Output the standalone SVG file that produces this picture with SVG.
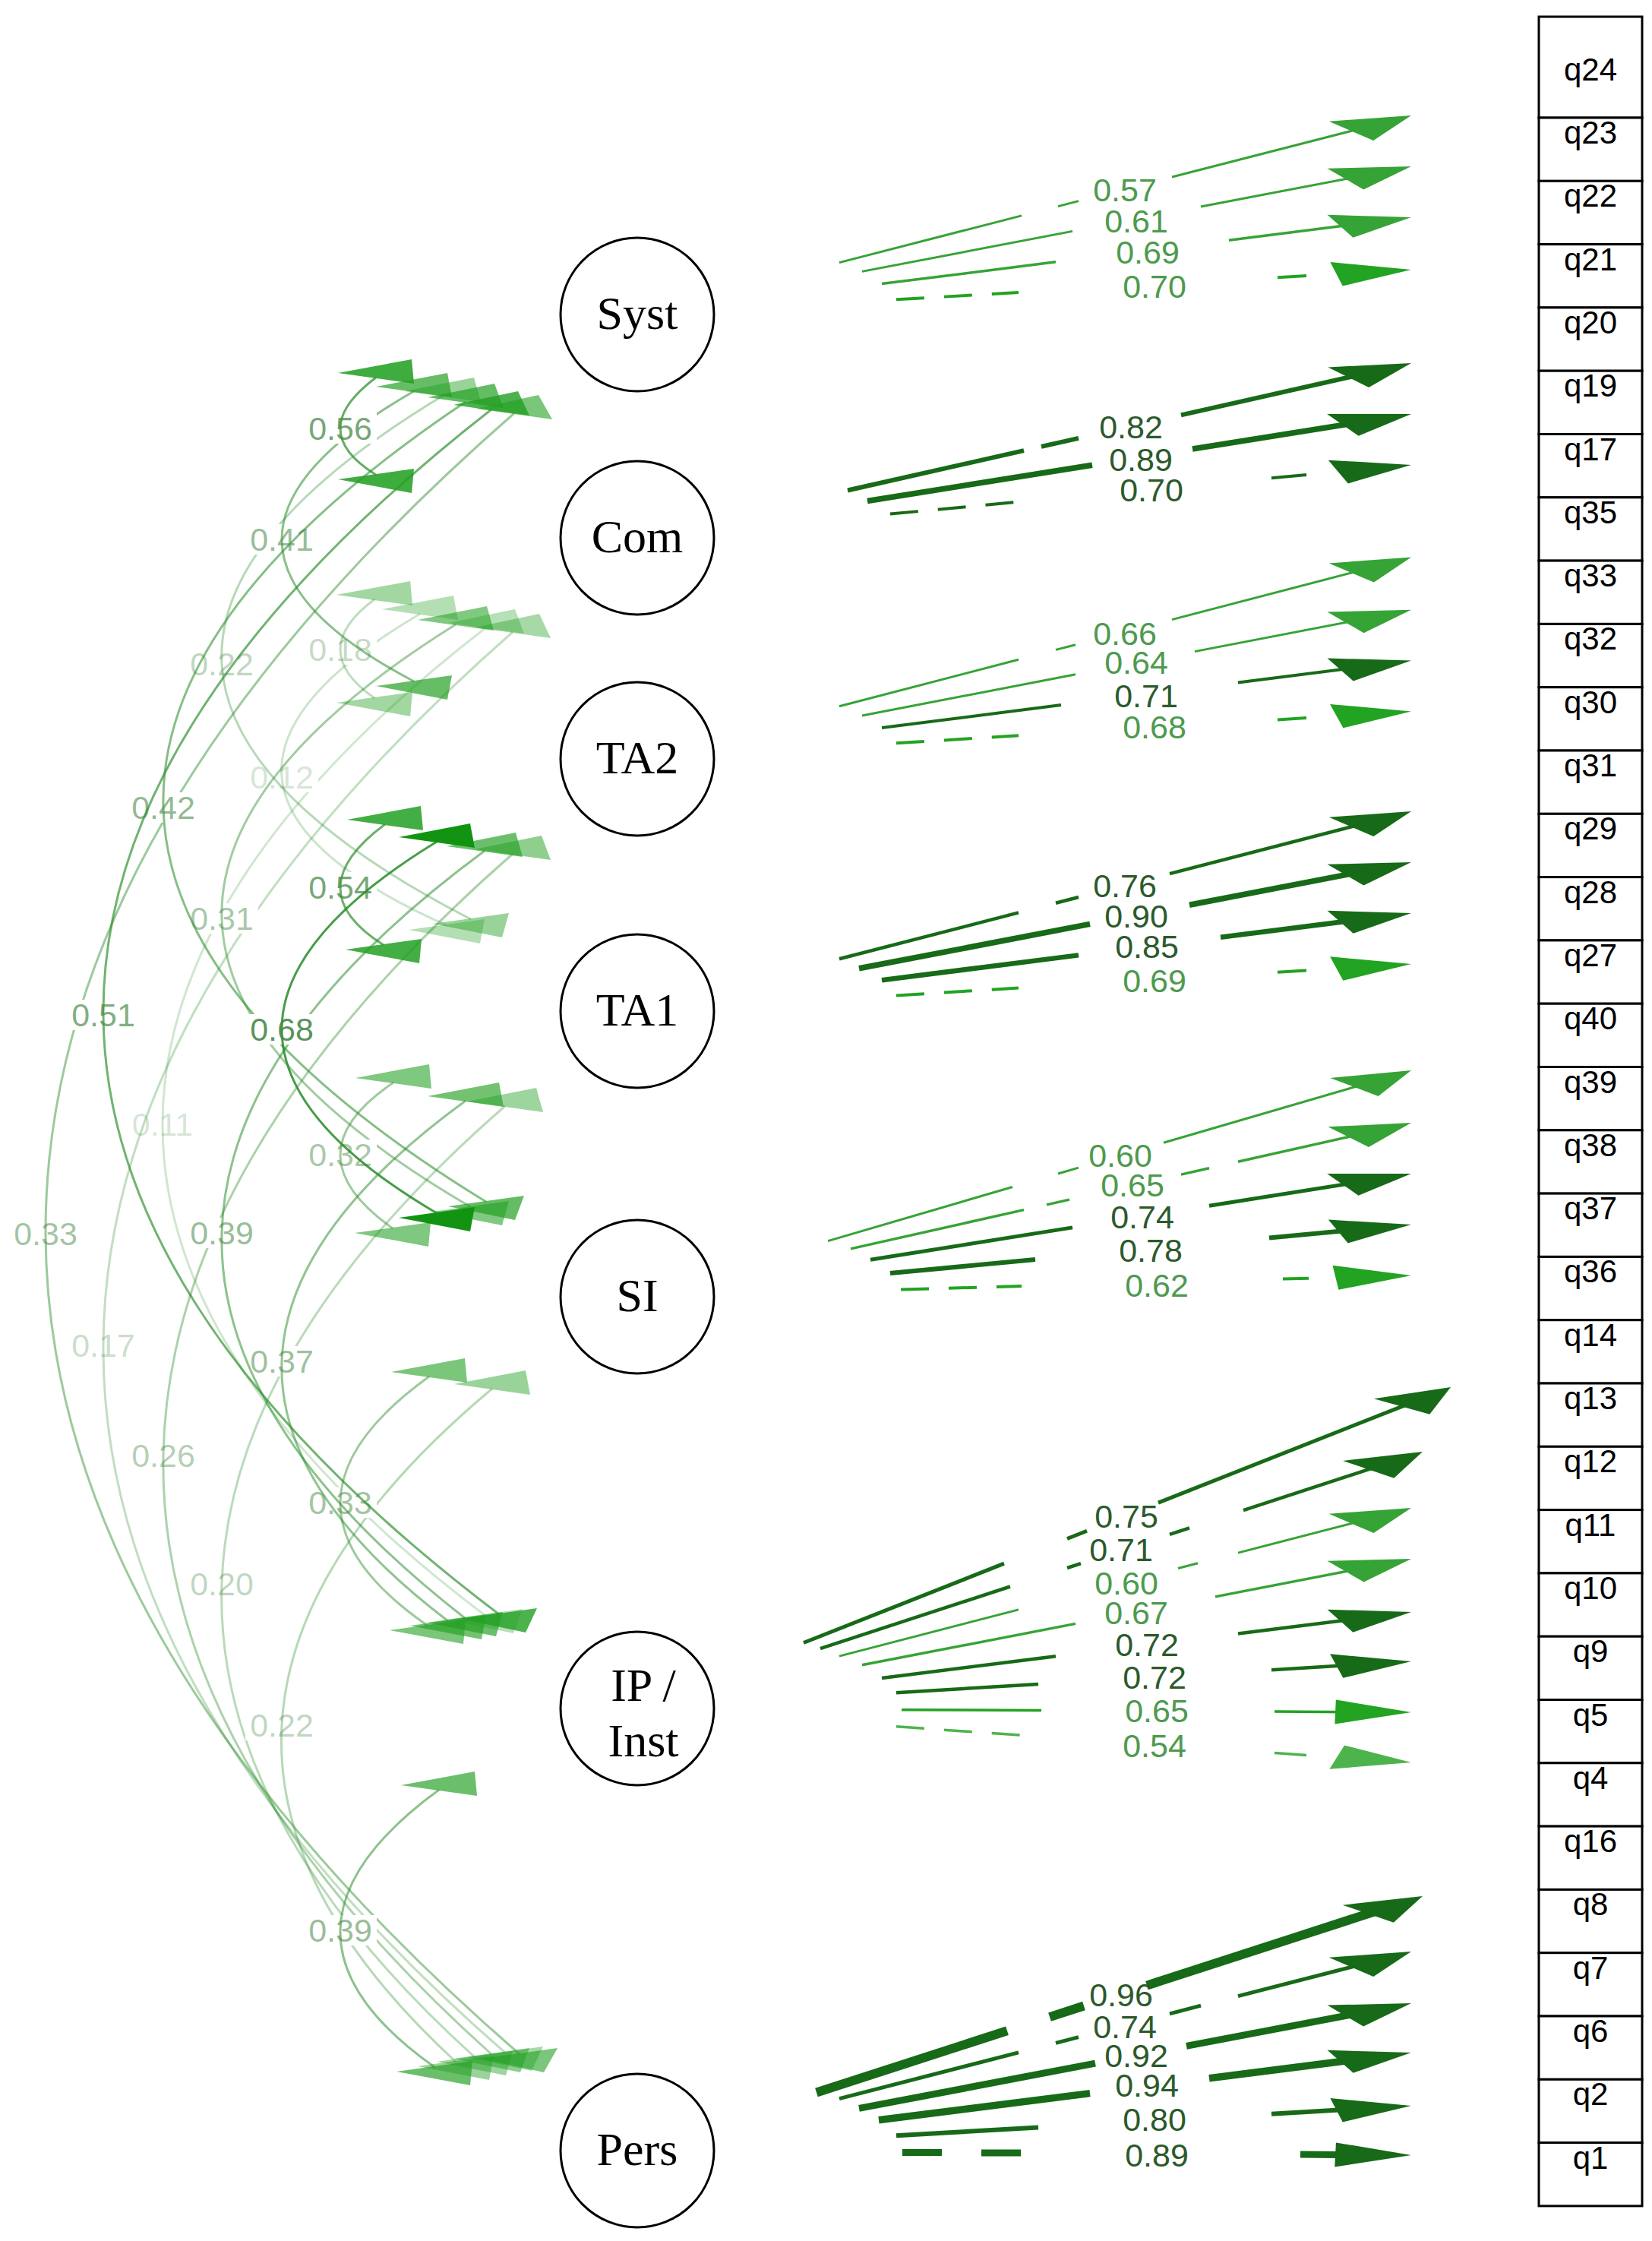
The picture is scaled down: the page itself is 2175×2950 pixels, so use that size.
<svg xmlns="http://www.w3.org/2000/svg" width="2175" height="2950" viewBox="0 0 2175 2950">
<style>
.box{fill:#fff;stroke:#000;stroke-width:3}
.lat{fill:#fff;stroke:#000;stroke-width:3}
.latt{font-family:"Liberation Serif","Times New Roman",serif;font-size:62px;text-anchor:middle;fill:#000}
.boxt{font-family:"Liberation Sans",Arial,sans-serif;font-size:42px;text-anchor:middle;fill:#000}
.lab{font-family:"Liberation Sans",Arial,sans-serif;font-size:43px;text-anchor:middle}
.ld{fill:#2c5a2c}
.lg{fill:#4e9a4e}
.cl{fill:#4a8a4a}
.lbg{fill:#fff}
.arc{fill:none;stroke:#288c28;stroke-width:3}
.hd{fill:#22a022}
line{fill:none;stroke-linecap:butt}
.dk{stroke:#176a17}
.gr{stroke:#36a336}
.br{stroke:#22a322}
.lt{stroke:#4db34d}
.dash{stroke-dasharray:37 26}
.inv{stroke:none}
</style>
<defs>
<marker id="mdk" markerUnits="userSpaceOnUse" orient="auto" refX="0" refY="0" markerWidth="1" markerHeight="1" overflow="visible"><path d="M0,0 L-33.3,-16 L-33.3,16 Z" fill="#176a17"/></marker>
<marker id="mgr" markerUnits="userSpaceOnUse" orient="auto" refX="0" refY="0" markerWidth="1" markerHeight="1" overflow="visible"><path d="M0,0 L-33.3,-16 L-33.3,16 Z" fill="#36a336"/></marker>
<marker id="mbr" markerUnits="userSpaceOnUse" orient="auto" refX="0" refY="0" markerWidth="1" markerHeight="1" overflow="visible"><path d="M0,0 L-33.3,-16 L-33.3,16 Z" fill="#22a322"/></marker>
<marker id="mlt" markerUnits="userSpaceOnUse" orient="auto" refX="0" refY="0" markerWidth="1" markerHeight="1" overflow="visible"><path d="M0,0 L-33.3,-16 L-33.3,16 Z" fill="#4db34d"/></marker>
</defs>
<rect x="0" y="0" width="2175" height="2950" fill="#fff"/>

<g id="connectors">
<g id="covariances">
<g id="cov-Com-IP"><rect class="lbg" x="166" y="1460" width="96" height="40"/><path class="arc" stroke-opacity=".22" d="M640,826 Q-211,1484 638,2126"/><polygon class="hd" fill-opacity=".33" points="590,820 678,802 690,834"/><polygon class="hd" fill-opacity=".33" points="588,2132 688,2118 676,2150"/><text class="lab cl" fill-opacity=".23" x="214" y="1495">0.11</text></g>
<g id="cov-Com-TA1"><rect class="lbg" x="323" y="1003" width="96" height="40"/><path class="arc" stroke-opacity=".23" d="M553,808 Q171.5,1033 588,1218"/><polygon class="hd" fill-opacity=".34" points="503,802 597,784 603,816"/><polygon class="hd" fill-opacity=".34" points="538,1224 638,1210 632,1242"/><text class="lab cl" fill-opacity=".24" x="371" y="1038">0.12</text></g>
<g id="cov-Com-Pers"><rect class="lbg" x="88" y="1751" width="96" height="40"/><path class="arc" stroke-opacity=".29" d="M675,832 Q-398,1775 665,2702"/><polygon class="hd" fill-opacity=".40" points="625,826 710,808 725,840"/><polygon class="hd" fill-opacity=".40" points="615,2708 715,2694 700,2726"/><text class="lab cl" fill-opacity=".30" x="136" y="1786">0.17</text></g>
<g id="cov-Com-TA2"><rect class="lbg" x="400" y="835" width="96" height="40"/><path class="arc" stroke-opacity=".30" d="M493,789 Q403,856 493,919"/><polygon class="hd" fill-opacity=".42" points="443,783 540,765 543,797"/><polygon class="hd" fill-opacity=".42" points="443,925 543,911 540,943"/><text class="lab cl" fill-opacity=".32" x="448" y="870">0.18</text></g>
<g id="cov-TA1-Pers"><rect class="lbg" x="244" y="2065" width="96" height="40"/><path class="arc" stroke-opacity=".32" d="M665,1456 Q-61,2088 625,2708"/><polygon class="hd" fill-opacity=".44" points="615,1450 706,1432 715,1464"/><polygon class="hd" fill-opacity=".44" points="575,2714 675,2700 666,2732"/><text class="lab cl" fill-opacity=".34" x="292" y="2100">0.20</text></g>
<g id="cov-Syst-TA1"><rect class="lbg" x="244" y="854" width="96" height="40"/><path class="arc" stroke-opacity=".34" d="M583,521 Q-17.5,882.5 620,1210"/><polygon class="hd" fill-opacity=".46" points="533,515 624,497 633,529"/><polygon class="hd" fill-opacity=".46" points="570,1216 670,1202 661,1234"/><text class="lab cl" fill-opacity=".36" x="292" y="889">0.22</text></g>
<g id="cov-SI-Pers"><rect class="lbg" x="323" y="2251" width="96" height="40"/><path class="arc" stroke-opacity=".34" d="M648,1828 Q118,2271 600,2714"/><polygon class="hd" fill-opacity=".46" points="598,1822 692,1804 698,1836"/><polygon class="hd" fill-opacity=".46" points="550,2720 650,2706 644,2738"/><text class="lab cl" fill-opacity=".36" x="371" y="2286">0.22</text></g>
<g id="cov-TA2-Pers"><rect class="lbg" x="167" y="1896" width="96" height="40"/><path class="arc" stroke-opacity=".39" d="M675,1124 Q-231,1918 647,2704"/><polygon class="hd" fill-opacity=".51" points="625,1118 713,1100 725,1132"/><polygon class="hd" fill-opacity=".51" points="597,2710 697,2696 685,2728"/><text class="lab cl" fill-opacity=".41" x="215" y="1931">0.26</text></g>
<g id="cov-Com-SI"><rect class="lbg" x="244" y="1189" width="96" height="40"/><path class="arc" stroke-opacity=".44" d="M600,822 Q-26,1212.5 620,1589"/><polygon class="hd" fill-opacity=".57" points="550,816 641,798 650,830"/><polygon class="hd" fill-opacity=".57" points="570,1595 670,1581 661,1613"/><text class="lab cl" fill-opacity=".47" x="292" y="1224">0.31</text></g>
<g id="cov-TA1-SI"><rect class="lbg" x="400" y="1500" width="96" height="40"/><path class="arc" stroke-opacity=".45" d="M518,1425 Q378.5,1519 517,1617"/><polygon class="hd" fill-opacity=".58" points="468,1419 565,1401 568,1433"/><polygon class="hd" fill-opacity=".58" points="467,1623 567,1609 564,1641"/><text class="lab cl" fill-opacity=".48" x="448" y="1535">0.32</text></g>
<g id="cov-SI-IP"><rect class="lbg" x="400" y="1958" width="96" height="40"/><path class="arc" stroke-opacity=".46" d="M565,1812 Q332,1980 563,2140"/><polygon class="hd" fill-opacity=".60" points="515,1806 612,1788 615,1820"/><polygon class="hd" fill-opacity=".60" points="513,2146 613,2132 610,2164"/><text class="lab cl" fill-opacity=".50" x="448" y="1993">0.33</text></g>
<g id="cov-Syst-Pers"><rect class="lbg" x="12" y="1604" width="96" height="40"/><path class="arc" stroke-opacity=".46" d="M677,544 Q-560.5,1624 684,2704"/><polygon class="hd" fill-opacity=".60" points="627,538 709,520 727,552"/><polygon class="hd" fill-opacity=".60" points="634,2710 734,2696 716,2728"/><text class="lab cl" fill-opacity=".50" x="60" y="1639">0.33</text></g>
<g id="cov-TA1-IP"><rect class="lbg" x="323" y="1772" width="96" height="40"/><path class="arc" stroke-opacity=".51" d="M613,1449 Q140.5,1792.5 590,2134"/><polygon class="hd" fill-opacity=".64" points="563,1443 657,1425 663,1457"/><polygon class="hd" fill-opacity=".64" points="540,2140 640,2126 634,2158"/><text class="lab cl" fill-opacity=".54" x="371" y="1807">0.37</text></g>
<g id="cov-TA2-IP"><rect class="lbg" x="244" y="1603" width="96" height="40"/><path class="arc" stroke-opacity=".53" d="M638,1120 Q-41,1621 612,2130"/><polygon class="hd" fill-opacity=".67" points="588,1114 679,1096 688,1128"/><polygon class="hd" fill-opacity=".67" points="562,2136 662,2122 653,2154"/><text class="lab cl" fill-opacity=".57" x="292" y="1638">0.39</text></g>
<g id="cov-IP-Pers"><rect class="lbg" x="400" y="2521" width="96" height="40"/><path class="arc" stroke-opacity=".53" d="M578,2356 Q321,2543.5 572,2721"/><polygon class="hd" fill-opacity=".67" points="528,2350 625,2332 628,2364"/><polygon class="hd" fill-opacity=".67" points="522,2727 622,2713 619,2745"/><text class="lab cl" fill-opacity=".57" x="448" y="2556">0.39</text></g>
<g id="cov-Syst-TA2"><rect class="lbg" x="323" y="690" width="96" height="40"/><path class="arc" stroke-opacity=".55" d="M545,515 Q197,714 545,897"/><polygon class="hd" fill-opacity=".69" points="495,509 589,491 595,523"/><polygon class="hd" fill-opacity=".69" points="495,903 595,889 589,921"/><text class="lab cl" fill-opacity=".59" x="371" y="725">0.41</text></g>
<g id="cov-Syst-SI"><rect class="lbg" x="167" y="1043" width="96" height="40"/><path class="arc" stroke-opacity=".56" d="M613,529 Q-196.5,1070.5 640,1582"/><polygon class="hd" fill-opacity=".70" points="563,523 651,505 663,537"/><polygon class="hd" fill-opacity=".70" points="590,1588 690,1574 678,1606"/><text class="lab cl" fill-opacity=".60" x="215" y="1078">0.42</text></g>
<g id="cov-Syst-IP"><rect class="lbg" x="88" y="1316" width="96" height="40"/><path class="arc" stroke-opacity=".66" d="M647,539 Q-380,1340 657,2125"/><polygon class="hd" fill-opacity=".81" points="597,533 682,515 697,547"/><polygon class="hd" fill-opacity=".81" points="607,2131 707,2117 692,2149"/><text class="lab cl" fill-opacity=".71" x="136" y="1351">0.51</text></g>
<g id="cov-TA2-TA1"><rect class="lbg" x="400" y="1148" width="96" height="40"/><path class="arc" stroke-opacity=".69" d="M507,1085 Q390,1171.5 505,1244"/><polygon class="hd" fill-opacity=".85" points="457,1079 554,1061 557,1093"/><polygon class="hd" fill-opacity=".85" points="455,1250 555,1236 552,1268"/><text class="lab cl" fill-opacity=".75" x="448" y="1183">0.54</text></g>
<g id="cov-Syst-Com"><rect class="lbg" x="400" y="544" width="96" height="40"/><path class="arc" stroke-opacity=".72" d="M495,497 Q401,567 495,625"/><polygon class="hd" fill-opacity=".87" points="445,491 542,473 545,505"/><polygon class="hd" fill-opacity=".87" points="445,631 545,617 542,649"/><text class="lab cl" fill-opacity=".77" x="448" y="579">0.56</text></g>
<g id="cov-TA2-SI"><rect class="lbg" x="323" y="1335" width="96" height="40"/><path class="arc" stroke-opacity=".85" d="M575,1108 Q167,1357.5 575,1597"/><polygon fill="#129412" points="525,1102 619,1084 625,1116"/><polygon fill="#129412" points="525,1603 625,1589 619,1621"/><text class="lab cl" fill-opacity=".92" x="371" y="1370">0.68</text></g>
</g>

<g id="loadings">
<!-- Syst -->
<line class="gr" stroke-width="3" x1="1105" y1="345.6" x2="1345" y2="283.9"/>
<line class="gr" stroke-width="3" x1="1393" y1="271.6" x2="1420" y2="264.6"/>
<line class="gr" stroke-width="3" x1="1543" y1="233" x2="1813" y2="163.6"/>
<line class="gr" stroke-width="3" x1="1135" y1="357.4" x2="1412" y2="304.4"/>
<line class="gr" stroke-width="3" x1="1581" y1="272" x2="1813" y2="227.6"/>
<line class="gr" stroke-width="3.5" x1="1161" y1="373.6" x2="1390" y2="344.8"/>
<line class="gr" stroke-width="3.5" x1="1618" y1="316.2" x2="1813" y2="291.7"/>
<line class="br dash" stroke-width="4" x1="1180" y1="394.3" x2="1341" y2="384.9"/>
<line class="br" stroke-width="4" x1="1682" y1="365.2" x2="1720" y2="363"/>
<!-- Com -->
<line class="dk" stroke-width="6" x1="1116" y1="645.5" x2="1348" y2="593.1"/>
<line class="dk" stroke-width="6" x1="1371" y1="587.9" x2="1420" y2="576.9"/>
<line class="dk" stroke-width="6" x1="1555" y1="546.4" x2="1813" y2="488.2"/>
<line class="dk" stroke-width="7.5" x1="1142" y1="659.5" x2="1438" y2="612.2"/>
<line class="dk" stroke-width="7.5" x1="1570" y1="591" x2="1813" y2="552.2"/>
<line class="dk dash" stroke-width="4" x1="1172" y1="676.6" x2="1360" y2="658.9"/>
<line class="dk" stroke-width="4" x1="1674" y1="629.3" x2="1720" y2="625"/>
<!-- TA2 -->
<line class="gr" stroke-width="3" x1="1105" y1="929.7" x2="1341" y2="868.2"/>
<line class="gr" stroke-width="3" x1="1390" y1="855.4" x2="1416" y2="848.7"/>
<line class="gr" stroke-width="3" x1="1543" y1="815.6" x2="1813" y2="745.2"/>
<line class="gr" stroke-width="3" x1="1135" y1="942" x2="1416" y2="887.8"/>
<line class="gr" stroke-width="3" x1="1573" y1="857.6" x2="1813" y2="811.4"/>
<line class="dk" stroke-width="4" x1="1161" y1="958.1" x2="1397" y2="928.1"/>
<line class="dk" stroke-width="4" x1="1630" y1="898.6" x2="1813" y2="875.3"/>
<line class="br dash" stroke-width="4" x1="1180" y1="978.3" x2="1341" y2="968.3"/>
<line class="br" stroke-width="4" x1="1682" y1="947.4" x2="1720" y2="945"/>
<!-- TA1 -->
<line class="dk" stroke-width="4.5" x1="1105" y1="1262.3" x2="1341" y2="1201.4"/>
<line class="dk" stroke-width="4.5" x1="1390" y1="1188.8" x2="1420" y2="1181"/>
<line class="dk" stroke-width="4.5" x1="1540" y1="1150.1" x2="1813" y2="1079.6"/>
<line class="dk" stroke-width="7.5" x1="1131" y1="1274.8" x2="1435" y2="1216.4"/>
<line class="dk" stroke-width="7.5" x1="1566" y1="1191.2" x2="1813" y2="1143.7"/>
<line class="dk" stroke-width="6.5" x1="1161" y1="1290.2" x2="1420" y2="1257.4"/>
<line class="dk" stroke-width="6.5" x1="1607" y1="1233.8" x2="1813" y2="1207.7"/>
<line class="br dash" stroke-width="4" x1="1180" y1="1310.4" x2="1341" y2="1300.5"/>
<line class="br" stroke-width="4" x1="1682" y1="1279.7" x2="1720" y2="1277.4"/>
<!-- SI -->
<line class="gr" stroke-width="3" x1="1090" y1="1633.6" x2="1333" y2="1562.5"/>
<line class="gr" stroke-width="3" x1="1393" y1="1545" x2="1420" y2="1537.1"/>
<line class="gr" stroke-width="3" x1="1532" y1="1504.3" x2="1813" y2="1422.2"/>
<line class="gr" stroke-width="3.5" x1="1120" y1="1643.9" x2="1348" y2="1592.6"/>
<line class="gr" stroke-width="3.5" x1="1378" y1="1585.9" x2="1408" y2="1579.1"/>
<line class="gr" stroke-width="3.5" x1="1555" y1="1546.1" x2="1592" y2="1537.8"/>
<line class="gr" stroke-width="3.5" x1="1630" y1="1529.2" x2="1813" y2="1488.1"/>
<line class="dk" stroke-width="5" x1="1146" y1="1658.2" x2="1412" y2="1615.9"/>
<line class="dk" stroke-width="5" x1="1592" y1="1587.3" x2="1813" y2="1552.2"/>
<line class="dk" stroke-width="6" x1="1172" y1="1676" x2="1363" y2="1658.1"/>
<line class="dk" stroke-width="6" x1="1671" y1="1629.4" x2="1813" y2="1616.2"/>
<line class="br dash" stroke-width="4" x1="1186" y1="1697.5" x2="1345" y2="1693.1"/>
<line class="br" stroke-width="4" x1="1689" y1="1683.6" x2="1723" y2="1682.7"/>
<!-- IP / Inst -->
<line class="dk" stroke-width="5" x1="1058" y1="2162.5" x2="1322" y2="2058.2"/>
<line class="dk" stroke-width="5" x1="1405" y1="2025.5" x2="1431" y2="2015.2"/>
<line class="dk" stroke-width="5" x1="1525" y1="1978.1" x2="1865" y2="1843.8"/>
<line class="dk" stroke-width="4.5" x1="1080" y1="2170.2" x2="1330" y2="2088.5"/>
<line class="dk" stroke-width="4.5" x1="1405" y1="2064" x2="1423" y2="2058.1"/>
<line class="dk" stroke-width="4.5" x1="1540" y1="2019.8" x2="1566" y2="2011.4"/>
<line class="dk" stroke-width="4.5" x1="1637" y1="1988.1" x2="1828" y2="1925.7"/>
<line class="gr" stroke-width="3" x1="1105" y1="2180.1" x2="1341" y2="2118.9"/>
<line class="gr" stroke-width="3" x1="1551" y1="2064.5" x2="1577" y2="2057.8"/>
<line class="gr" stroke-width="3" x1="1630" y1="2044.1" x2="1813" y2="1996.7"/>
<line class="gr" stroke-width="3.5" x1="1135" y1="2191.8" x2="1416" y2="2137.4"/>
<line class="gr" stroke-width="3.5" x1="1600" y1="2101.9" x2="1813" y2="2060.7"/>
<line class="dk" stroke-width="4.5" x1="1161" y1="2208.9" x2="1390" y2="2180.3"/>
<line class="dk" stroke-width="4.5" x1="1630" y1="2150.4" x2="1813" y2="2127.6"/>
<line class="dk" stroke-width="4.5" x1="1180" y1="2228.3" x2="1367" y2="2216.9"/>
<line class="dk" stroke-width="4.5" x1="1674" y1="2198.2" x2="1813" y2="2189.7"/>
<line class="br" stroke-width="3.5" x1="1187" y1="2250.7" x2="1371" y2="2251.6"/>
<line class="br" stroke-width="3.5" x1="1678" y1="2253.1" x2="1813" y2="2253.8"/>
<line class="lt dash" stroke-width="3.5" x1="1180" y1="2272.8" x2="1367" y2="2285.8"/>
<line class="lt" stroke-width="3.5" x1="1678" y1="2307.5" x2="1720" y2="2310.4"/>
<!-- Pers -->
<line class="dk" stroke-width="12" x1="1075" y1="2754.5" x2="1326" y2="2673.2"/>
<line class="dk" stroke-width="12" x1="1382" y1="2655.1" x2="1427" y2="2640.5"/>
<line class="dk" stroke-width="12" x1="1510" y1="2613.6" x2="1828" y2="2510.6"/>
<line class="dk" stroke-width="5" x1="1105" y1="2762.6" x2="1341" y2="2701.9"/>
<line class="dk" stroke-width="5" x1="1390" y1="2689.3" x2="1420" y2="2681.6"/>
<line class="dk" stroke-width="5" x1="1540" y1="2650.8" x2="1581" y2="2640.2"/>
<line class="dk" stroke-width="5" x1="1630" y1="2627.6" x2="1813" y2="2580.6"/>
<line class="dk" stroke-width="9" x1="1131" y1="2775.4" x2="1442" y2="2716.2"/>
<line class="dk" stroke-width="9" x1="1562" y1="2693.4" x2="1813" y2="2645.6"/>
<line class="dk" stroke-width="9.5" x1="1157" y1="2790.7" x2="1435" y2="2755.6"/>
<line class="dk" stroke-width="9.5" x1="1592" y1="2735.7" x2="1813" y2="2707.7"/>
<line class="dk" stroke-width="6" x1="1180" y1="2811.3" x2="1367" y2="2800.4"/>
<line class="dk" stroke-width="6" x1="1674" y1="2782.7" x2="1813" y2="2774.6"/>
<line class="dk" stroke-width="9" stroke-linecap="round" x1="1188" y1="2833.5" x2="1240" y2="2833.5"/>
<line class="dk" stroke-width="9" stroke-linecap="round" x1="1292" y1="2834" x2="1344" y2="2834"/>
<line class="dk" stroke-width="9" x1="1712" y1="2836" x2="1760" y2="2836.5"/>

<g id="arrowheads" transform="scale(3,1)">
<line class="inv" x1="279.67" y1="414" x2="619.33" y2="152" marker-end="url(#mgr)"/>
<line class="inv" x1="279.67" y1="414" x2="619.33" y2="219" marker-end="url(#mgr)"/>
<line class="inv" x1="279.67" y1="414" x2="619.33" y2="286" marker-end="url(#mgr)"/>
<line class="inv" x1="279.67" y1="414" x2="619.33" y2="355" marker-end="url(#mbr)"/>
<line class="inv" x1="279.67" y1="708" x2="619.33" y2="478" marker-end="url(#mdk)"/>
<line class="inv" x1="279.67" y1="708" x2="619.33" y2="545" marker-end="url(#mdk)"/>
<line class="inv" x1="279.67" y1="708" x2="619.33" y2="612" marker-end="url(#mdk)"/>
<line class="inv" x1="279.67" y1="999" x2="619.33" y2="733.5" marker-end="url(#mgr)"/>
<line class="inv" x1="279.67" y1="999" x2="619.33" y2="802.7" marker-end="url(#mgr)"/>
<line class="inv" x1="279.67" y1="999" x2="619.33" y2="869.6" marker-end="url(#mdk)"/>
<line class="inv" x1="279.67" y1="999" x2="619.33" y2="936.6" marker-end="url(#mbr)"/>
<line class="inv" x1="279.67" y1="1331" x2="619.33" y2="1068" marker-end="url(#mdk)"/>
<line class="inv" x1="279.67" y1="1331" x2="619.33" y2="1135" marker-end="url(#mdk)"/>
<line class="inv" x1="279.67" y1="1331" x2="619.33" y2="1202" marker-end="url(#mdk)"/>
<line class="inv" x1="279.67" y1="1331" x2="619.33" y2="1269" marker-end="url(#mbr)"/>
<line class="inv" x1="279.67" y1="1707" x2="619.33" y2="1409" marker-end="url(#mgr)"/>
<line class="inv" x1="279.67" y1="1707" x2="619.33" y2="1478" marker-end="url(#mgr)"/>
<line class="inv" x1="279.67" y1="1707" x2="619.33" y2="1545" marker-end="url(#mdk)"/>
<line class="inv" x1="279.67" y1="1707" x2="619.33" y2="1612" marker-end="url(#mdk)"/>
<line class="inv" x1="279.67" y1="1707" x2="619.33" y2="1679" marker-end="url(#mbr)"/>
<line class="inv" x1="279.67" y1="2249" x2="636.67" y2="1826" marker-end="url(#mdk)"/>
<line class="inv" x1="279.67" y1="2249" x2="624.33" y2="1911" marker-end="url(#mdk)"/>
<line class="inv" x1="279.67" y1="2249" x2="619.33" y2="1985" marker-end="url(#mgr)"/>
<line class="inv" x1="279.67" y1="2249" x2="619.33" y2="2052" marker-end="url(#mgr)"/>
<line class="inv" x1="279.67" y1="2249" x2="619.33" y2="2122" marker-end="url(#mdk)"/>
<line class="inv" x1="279.67" y1="2249" x2="619.33" y2="2187" marker-end="url(#mdk)"/>
<line class="inv" x1="279.67" y1="2249" x2="619.33" y2="2254" marker-end="url(#mbr)"/>
<line class="inv" x1="279.67" y1="2249" x2="619.33" y2="2320" marker-end="url(#mlt)"/>
<line class="inv" x1="279.67" y1="2831" x2="624.33" y2="2496" marker-end="url(#mdk)"/>
<line class="inv" x1="279.67" y1="2831" x2="619.33" y2="2569" marker-end="url(#mdk)"/>
<line class="inv" x1="279.67" y1="2831" x2="619.33" y2="2637" marker-end="url(#mdk)"/>
<line class="inv" x1="279.67" y1="2831" x2="619.33" y2="2702" marker-end="url(#mdk)"/>
<line class="inv" x1="279.67" y1="2831" x2="619.33" y2="2772" marker-end="url(#mdk)"/>
<line class="inv" x1="279.67" y1="2831" x2="619.33" y2="2837" marker-end="url(#mdk)"/>
</g>

<g id="loading-labels" class="lab">
<text class="lab lg" x="1481" y="265">0.57</text>
<text class="lab lg" x="1496" y="306">0.61</text>
<text class="lab lg" x="1511" y="347">0.69</text>
<text class="lab lg" x="1520" y="392">0.70</text>
<text class="lab ld" x="1489" y="577">0.82</text>
<text class="lab ld" x="1502" y="620">0.89</text>
<text class="lab ld" x="1516" y="660">0.70</text>
<text class="lab lg" x="1481" y="849">0.66</text>
<text class="lab lg" x="1496" y="887">0.64</text>
<text class="lab ld" x="1509" y="931">0.71</text>
<text class="lab lg" x="1520" y="972">0.68</text>
<text class="lab ld" x="1481" y="1181">0.76</text>
<text class="lab ld" x="1496" y="1221">0.90</text>
<text class="lab ld" x="1510" y="1261">0.85</text>
<text class="lab lg" x="1520" y="1306">0.69</text>
<text class="lab lg" x="1475" y="1536">0.60</text>
<text class="lab lg" x="1491" y="1575">0.65</text>
<text class="lab ld" x="1504" y="1617">0.74</text>
<text class="lab ld" x="1515" y="1661">0.78</text>
<text class="lab lg" x="1523" y="1707">0.62</text>
<text class="lab ld" x="1483" y="2011">0.75</text>
<text class="lab ld" x="1476" y="2055">0.71</text>
<text class="lab lg" x="1483" y="2099">0.60</text>
<text class="lab lg" x="1496" y="2138">0.67</text>
<text class="lab ld" x="1510" y="2180">0.72</text>
<text class="lab ld" x="1520" y="2223">0.72</text>
<text class="lab lg" x="1523" y="2267">0.65</text>
<text class="lab lg" x="1520" y="2313">0.54</text>
<text class="lab ld" x="1476" y="2641">0.96</text>
<text class="lab ld" x="1481" y="2683">0.74</text>
<text class="lab ld" x="1496" y="2721">0.92</text>
<text class="lab ld" x="1510" y="2760">0.94</text>
<text class="lab ld" x="1520" y="2805">0.80</text>
<text class="lab ld" x="1523" y="2852">0.89</text>
</g>
</g>
</g>

<g id="node-Syst"><circle class="lat" cx="839" cy="414" r="101"/><text class="latt" x="839" y="433">Syst</text></g>
<g id="node-Com"><circle class="lat" cx="839" cy="708" r="101"/><text class="latt" x="839" y="727">Com</text></g>
<g id="node-TA2"><circle class="lat" cx="839" cy="999" r="101"/><text class="latt" x="839" y="1018">TA2</text></g>
<g id="node-TA1"><circle class="lat" cx="839" cy="1331" r="101"/><text class="latt" x="839" y="1350">TA1</text></g>
<g id="node-SI"><circle class="lat" cx="839" cy="1707" r="101"/><text class="latt" x="839" y="1726">SI</text></g>
<g id="node-IPInst"><circle class="lat" cx="839" cy="2249" r="101"/><text class="latt" x="847" y="2239">IP /</text><text class="latt" x="847" y="2312">Inst</text></g>
<g id="node-Pers"><circle class="lat" cx="839" cy="2831" r="101"/><text class="latt" x="839" y="2850">Pers</text></g>

<g id="node-q24"><rect class="box" x="2026" y="22" width="136" height="133"/><text class="boxt" x="2094" y="106">q24</text></g>
<g id="node-q23"><rect class="box" x="2026" y="155" width="136" height="83.3"/><text class="boxt" x="2094" y="189">q23</text></g>
<g id="node-q22"><rect class="box" x="2026" y="238.3" width="136" height="83.3"/><text class="boxt" x="2094" y="272.3">q22</text></g>
<g id="node-q21"><rect class="box" x="2026" y="321.6" width="136" height="83.3"/><text class="boxt" x="2094" y="355.6">q21</text></g>
<g id="node-q20"><rect class="box" x="2026" y="404.9" width="136" height="83.3"/><text class="boxt" x="2094" y="438.9">q20</text></g>
<g id="node-q19"><rect class="box" x="2026" y="488.2" width="136" height="83.3"/><text class="boxt" x="2094" y="522.2">q19</text></g>
<g id="node-q17"><rect class="box" x="2026" y="571.5" width="136" height="83.3"/><text class="boxt" x="2094" y="605.5">q17</text></g>
<g id="node-q35"><rect class="box" x="2026" y="654.8" width="136" height="83.3"/><text class="boxt" x="2094" y="688.8">q35</text></g>
<g id="node-q33"><rect class="box" x="2026" y="738.1" width="136" height="83.3"/><text class="boxt" x="2094" y="772.1">q33</text></g>
<g id="node-q32"><rect class="box" x="2026" y="821.4" width="136" height="83.3"/><text class="boxt" x="2094" y="855.4">q32</text></g>
<g id="node-q30"><rect class="box" x="2026" y="904.7" width="136" height="83.3"/><text class="boxt" x="2094" y="938.7">q30</text></g>
<g id="node-q31"><rect class="box" x="2026" y="988" width="136" height="83.3"/><text class="boxt" x="2094" y="1022">q31</text></g>
<g id="node-q29"><rect class="box" x="2026" y="1071.3" width="136" height="83.3"/><text class="boxt" x="2094" y="1105.3">q29</text></g>
<g id="node-q28"><rect class="box" x="2026" y="1154.6" width="136" height="83.3"/><text class="boxt" x="2094" y="1188.6">q28</text></g>
<g id="node-q27"><rect class="box" x="2026" y="1237.9" width="136" height="83.3"/><text class="boxt" x="2094" y="1271.9">q27</text></g>
<g id="node-q40"><rect class="box" x="2026" y="1321.2" width="136" height="83.3"/><text class="boxt" x="2094" y="1355.2">q40</text></g>
<g id="node-q39"><rect class="box" x="2026" y="1404.5" width="136" height="83.3"/><text class="boxt" x="2094" y="1438.5">q39</text></g>
<g id="node-q38"><rect class="box" x="2026" y="1487.8" width="136" height="83.3"/><text class="boxt" x="2094" y="1521.8">q38</text></g>
<g id="node-q37"><rect class="box" x="2026" y="1571.1" width="136" height="83.3"/><text class="boxt" x="2094" y="1605.1">q37</text></g>
<g id="node-q36"><rect class="box" x="2026" y="1654.4" width="136" height="83.3"/><text class="boxt" x="2094" y="1688.4">q36</text></g>
<g id="node-q14"><rect class="box" x="2026" y="1737.7" width="136" height="83.3"/><text class="boxt" x="2094" y="1771.7">q14</text></g>
<g id="node-q13"><rect class="box" x="2026" y="1821" width="136" height="83.3"/><text class="boxt" x="2094" y="1855">q13</text></g>
<g id="node-q12"><rect class="box" x="2026" y="1904.3" width="136" height="83.3"/><text class="boxt" x="2094" y="1938.3">q12</text></g>
<g id="node-q11"><rect class="box" x="2026" y="1987.6" width="136" height="83.3"/><text class="boxt" x="2094" y="2021.6">q11</text></g>
<g id="node-q10"><rect class="box" x="2026" y="2070.9" width="136" height="83.3"/><text class="boxt" x="2094" y="2104.9">q10</text></g>
<g id="node-q9"><rect class="box" x="2026" y="2154.2" width="136" height="83.3"/><text class="boxt" x="2094" y="2188.2">q9</text></g>
<g id="node-q5"><rect class="box" x="2026" y="2237.5" width="136" height="83.3"/><text class="boxt" x="2094" y="2271.5">q5</text></g>
<g id="node-q4"><rect class="box" x="2026" y="2320.8" width="136" height="83.3"/><text class="boxt" x="2094" y="2354.8">q4</text></g>
<g id="node-q16"><rect class="box" x="2026" y="2404.1" width="136" height="83.3"/><text class="boxt" x="2094" y="2438.1">q16</text></g>
<g id="node-q8"><rect class="box" x="2026" y="2487.4" width="136" height="83.3"/><text class="boxt" x="2094" y="2521.4">q8</text></g>
<g id="node-q7"><rect class="box" x="2026" y="2570.7" width="136" height="83.3"/><text class="boxt" x="2094" y="2604.7">q7</text></g>
<g id="node-q6"><rect class="box" x="2026" y="2654" width="136" height="83.3"/><text class="boxt" x="2094" y="2688">q6</text></g>
<g id="node-q2"><rect class="box" x="2026" y="2737.3" width="136" height="83.3"/><text class="boxt" x="2094" y="2771.3">q2</text></g>
<g id="node-q1"><rect class="box" x="2026" y="2820.6" width="136" height="83.3"/><text class="boxt" x="2094" y="2854.6">q1</text></g>
</svg>
